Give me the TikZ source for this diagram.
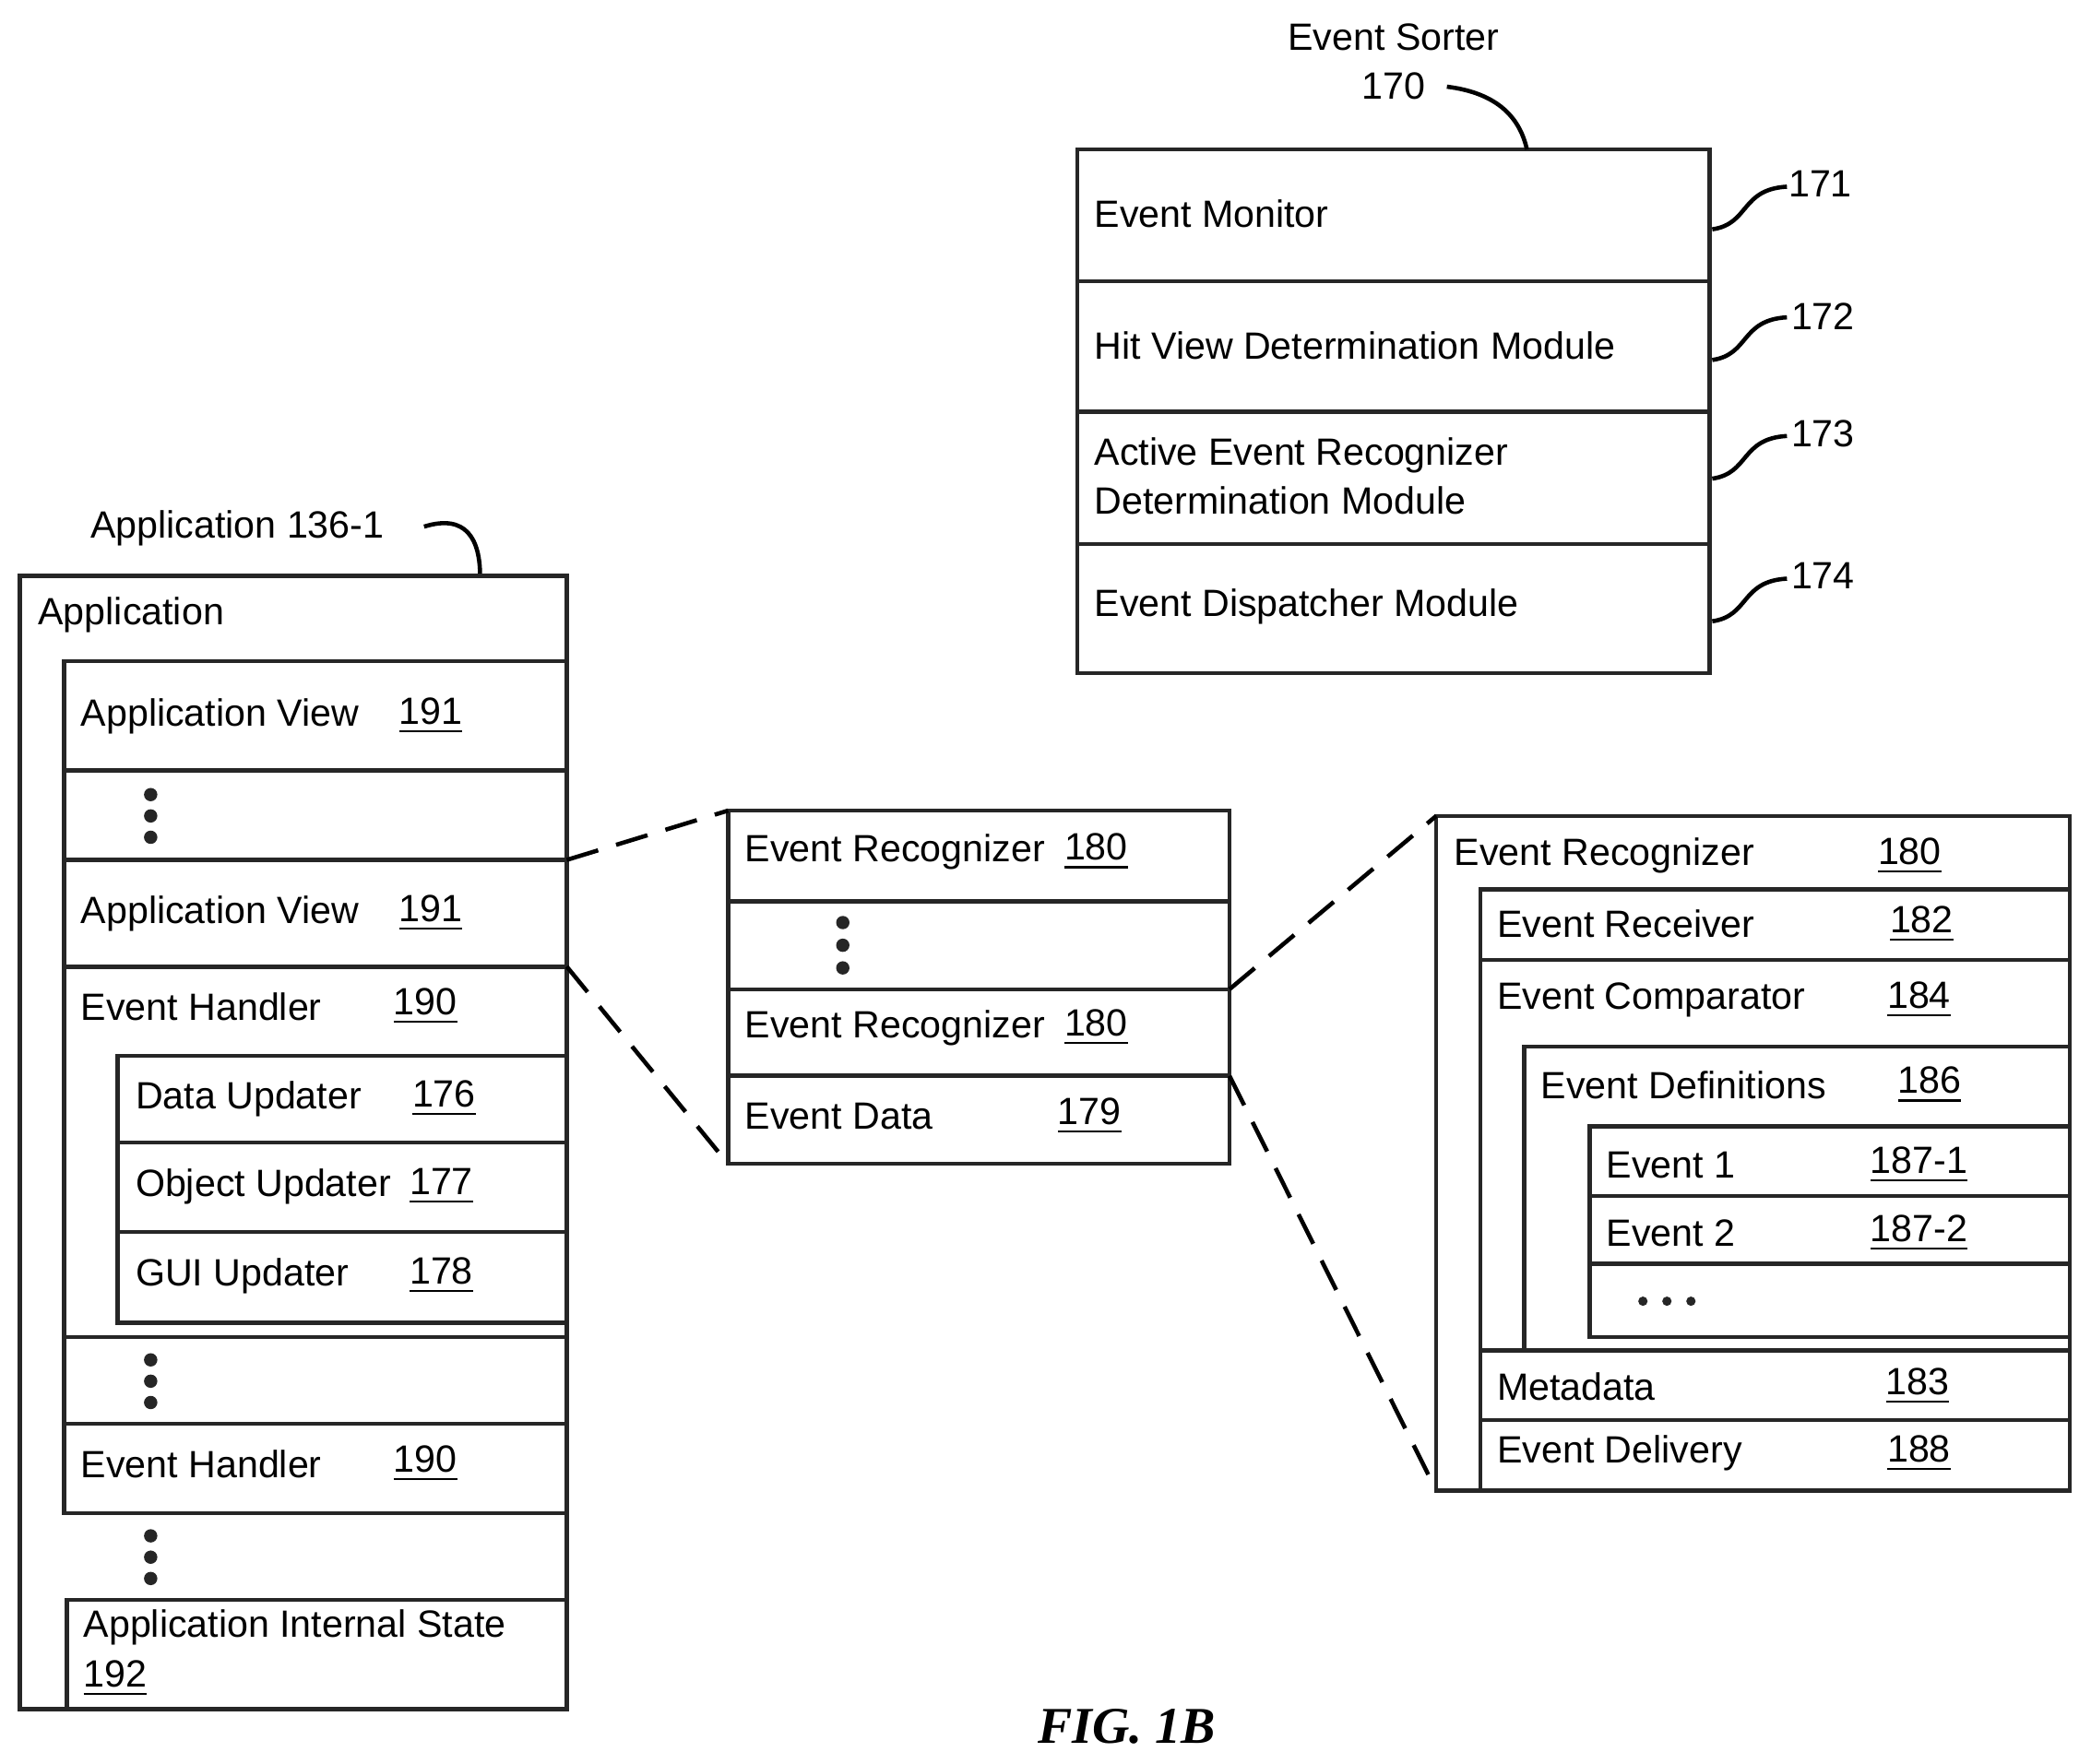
\documentclass[tikz,border=0pt]{standalone}
\usepackage{fontspec}
\setmainfont{Liberation Sans}
\newfontfamily\figfont{Liberation Serif}
\begin{document}
\begin{tikzpicture}[x=0.01cm,y=-0.01cm,
  box/.style={draw=black!85,line width=0.9pt},
  lbl/.style={anchor=west,inner sep=0pt,font=\fontsize{8.1}{10.5}\selectfont,align=left},
  num/.style={inner sep=0pt,font=\fontsize{8.1}{10.5}\selectfont},
  dot/.style={circle,fill=black!85,inner sep=0pt,minimum size=0.1cm},
  zoomline/.style={line width=0.9pt,dash pattern=on 7pt off 4pt},
  lead/.style={line width=0.9pt}]
\useasboundingbox (0,0) rectangle (1568,1323);
% Event sorter
\draw[box] (808,112) rectangle (1282,505);
\foreach \y in {211,309,408} \draw[box] (808,\y) -- (1282,\y);
\node[num,align=center] (es) at (1045,46) {Event Sorter\\170};
\node[lbl] (em) at (820,160) {Event Monitor};
\node[lbl] (hv) at (820,259) {Hit View Determination Module};
\node[lbl] (ae) at (820,357) {Active Event Recognizer\\Determination Module};
\node[lbl] (ed) at (820,455) {Event Dispatcher Module};
\node[num] (n171) at (1365,138) {171};
\node[num] (n172) at (1367,237) {172};
\node[num] (n173) at (1367,325) {173};
\node[num] (n174) at (1367,432) {174};
\coordinate (esb) at (1145,112);
\draw[lead] (1085,65) .. controls (1125,70) and (1140,90) .. (esb);
\foreach \n/\y in {171/140,172/238,173/327,174/434}{
  \coordinate (s\n) at (1284,\y+32);
  \draw[lead] (s\n) .. controls (1312,\y+28) and (1305,\y+2) .. (1340,\y);}
% Application
\node[num] (app) at (178,396) {Application 136-1};
\coordinate (appt) at (360,432);
\draw[lead] (318,395) .. controls (350,385) and (360,405) .. (appt);
\draw[box] (15,432) rectangle (425,1282);
\node[lbl] at (28,461) {Application};
\draw[box] (48,496) rectangle (425,1135);
\foreach \y in {578,645,725,1003,1068} \draw[box] (48,\y) -- (425,\y);
\node[lbl] at (60,537) {Application View};
\node[num] at (323,537) {\underline{191}};
\node[dot] at (113,596) {};\node[dot] at (113,612) {};\node[dot] at (113,628) {};
\node[lbl] at (60,685) {Application View};
\node[num] at (323,685) {\underline{191}};
\node[lbl] at (60,755) {Event Handler};
\node[num] at (319,755) {\underline{190}};
\draw[box] (88,792) rectangle (425,992);
\draw[box] (88,857) -- (425,857); \draw[box] (88,924) -- (425,924);
\node[lbl] at (101,824) {Data Updater};
\node[num] at (333,824) {\underline{176}};
\node[lbl] at (101,890) {Object Updater};
\node[num] at (331,890) {\underline{177}};
\node[lbl] at (101,957) {GUI Updater};
\node[num] at (331,957) {\underline{178}};
\node[dot] at (113,1020) {};\node[dot] at (113,1036) {};\node[dot] at (113,1052) {};
\node[lbl] at (60,1098) {Event Handler};
\node[num] at (319,1098) {\underline{190}};
\node[dot] at (113,1152) {};\node[dot] at (113,1168) {};\node[dot] at (113,1184) {};
\draw[box] (50,1282) -- (50,1200) -- (425,1200);
\node[lbl] at (62,1240) {Application Internal State\\\underline{192}};
% Middle
\draw[box] (546,608) rectangle (922,873);
\foreach \y in {676,742,807} \draw[box] (546,\y) -- (922,\y);
\node[lbl] at (558,639) {Event Recognizer};
\node[num] at (822,639) {\underline{180}};
\node[dot] at (632,692) {};\node[dot] at (632,709) {};\node[dot] at (632,726) {};
\node[lbl] at (558,771) {Event Recognizer};
\node[num] at (822,771) {\underline{180}};
\node[lbl] at (558,837) {Event Data};
\node[num] at (817,837) {\underline{179}};
\coordinate (a1) at (425,645); \coordinate (a2) at (425,725);
\coordinate (m1) at (546,608); \coordinate (m2) at (546,873);
\draw[zoomline] (a1) -- (m1); \draw[zoomline] (a2) -- (m2);
% Right
\draw[box] (1077,612) rectangle (1552,1118);
\node[lbl] at (1090,642) {Event Recognizer};
\node[num] at (1432,642) {\underline{180}};
\draw[box] (1110,667) rectangle (1552,1118);
\foreach \y in {720,1065} \draw[box] (1110,\y) -- (1552,\y);
\node[lbl] at (1122,693) {Event Receiver};
\node[num] at (1441,693) {\underline{182}};
\node[lbl] at (1122,750) {Event Comparator};
\node[num] at (1439,750) {\underline{184}};
\draw[box] (1143,1013) -- (1143,785) -- (1552,785);
\draw[box] (1110,1013) -- (1552,1013);
\node[lbl] at (1155,814) {Event Definitions};
\node[num] at (1447,814) {\underline{186}};
\draw[box] (1192,845) rectangle (1552,1003);
\draw[box] (1192,897) -- (1552,897); \draw[box] (1192,948) -- (1552,948);
\node[lbl] at (1204,874) {Event 1};
\node[num] at (1439,874) {\underline{187-1}};
\node[lbl] at (1204,925) {Event 2};
\node[num] at (1439,925) {\underline{187-2}};
\node[dot,minimum size=0.07cm] at (1232,976) {};\node[dot,minimum size=0.07cm] at (1250,976) {};\node[dot,minimum size=0.07cm] at (1268,976) {};
\node[lbl] at (1122,1040) {Metadata};
\node[num] at (1438,1040) {\underline{183}};
\node[lbl] at (1122,1090) {Event Delivery};
\node[num] at (1439,1090) {\underline{188}};
\coordinate (b1) at (922,742); \coordinate (b2) at (922,807);
\coordinate (r1) at (1077,612); \coordinate (r2) at (1077,1118);
\draw[zoomline] (b1) -- (r1); \draw[zoomline] (b2) -- (r2);
\node[num,font=\figfont\bfseries\itshape\fontsize{11}{13}\selectfont] (fig) at (845,1295) {FIG. 1B};
\end{tikzpicture}
\end{document}
